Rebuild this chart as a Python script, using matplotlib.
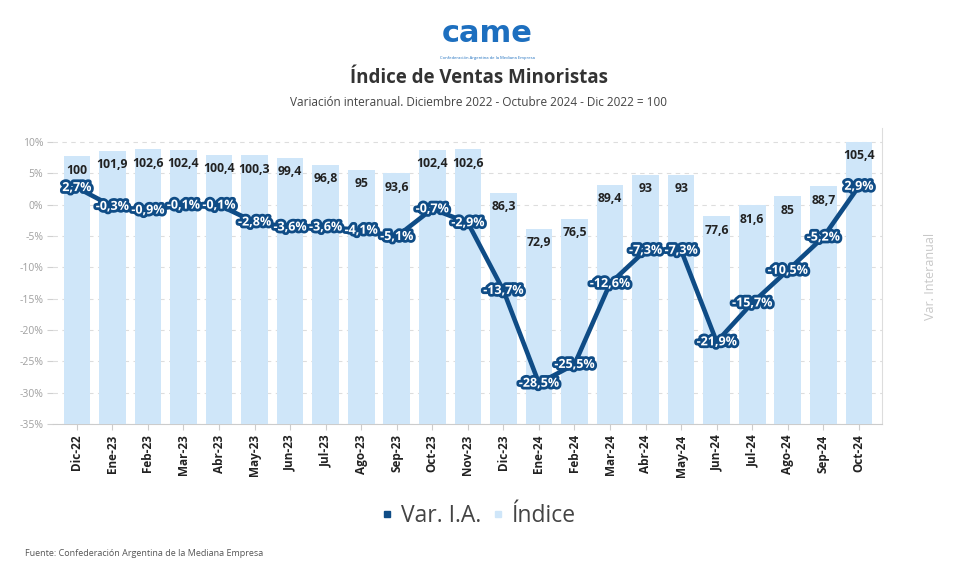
import matplotlib.pyplot as plt
import matplotlib.patheffects as pe
from matplotlib.lines import Line2D

plt.rcParams['font.family'] = ['Open Sans', 'DejaVu Sans']

meses = ['Dic-22', 'Ene-23', 'Feb-23', 'Mar-23', 'Abr-23', 'May-23', 'Jun-23', 'Jul-23',
         'Ago-23', 'Sep-23', 'Oct-23', 'Nov-23', 'Dic-23', 'Ene-24', 'Feb-24', 'Mar-24',
         'Abr-24', 'May-24', 'Jun-24', 'Jul-24', 'Ago-24', 'Sep-24', 'Oct-24']
indice = [100, 101.9, 102.6, 102.4, 100.4, 100.3, 99.4, 96.8, 95, 93.6, 102.4, 102.6,
          86.3, 72.9, 76.5, 89.4, 93, 93, 77.6, 81.6, 85, 88.7, 105.4]
var_ia = [2.7, -0.3, -0.9, -0.1, -0.1, -2.8, -3.6, -3.6, -4.1, -5.1, -0.7, -2.9,
          -13.7, -28.5, -25.5, -12.6, -7.3, -7.3, -21.9, -15.7, -10.5, -5.2, 2.9]
pct_ticks = [10, 5, 0, -5, -10, -15, -20, -25, -30, -35]

c_bar = '#cfe6f9'
c_line = '#0f4c86'

fig = plt.figure(figsize=(9.57, 5.75), dpi=100)
ax = fig.add_axes([0.0554, 0.2626, 0.8662, 0.5148])
x = list(range(len(meses)))

# base axes: percent scale, grid, right ticks
ax.set_xlim(-0.67, 22.65)
ax.set_ylim(-35, 12.2)
ax.yaxis.tick_right()
ax.yaxis.set_label_position('right')
ax.set_yticks(pct_ticks)
ax.set_yticklabels([f'{t}%' for t in pct_ticks], color='#a0a0a0', fontsize=7.5)
ax.tick_params(axis='y', length=4, color='#d0d0d0', pad=3)
ax.grid(axis='y', linestyle=(0, (4, 4)), color='#dddddd', lw=0.8)
ax.set_ylabel('Var. Interanual', color='#c8c8c8', fontsize=9, labelpad=30)
for s in ['top', 'left']:
    ax.spines[s].set_visible(False)
ax.spines['right'].set_color('#dddddd')
ax.spines['bottom'].set_color('#cccccc')
ax.set_xticks(x)
ax.set_xticklabels(meses, rotation=90, fontsize=8.5, fontweight='bold', color='#222222')
ax.tick_params(axis='x', length=4, color='#cccccc')

# bars
axb = ax.twinx()
axb.set_ylim(0, 110.5)
axb.bar(x, indice, width=0.75, color=c_bar)
for xi, v in zip(x, indice):
    axb.annotate(f'{v:g}'.replace('.', ','), (xi, v), xytext=(0, -10), textcoords='offset points',
                 ha='center', va='center', fontsize=8.8, fontweight='bold', color='#222222')
axb.set_yticks([])
for s in axb.spines.values():
    s.set_visible(False)

# line
axl = ax.twinx()
axl.set_ylim(-35, 12.2)
axl.plot(x, var_ia, color=c_line, lw=3.3, solid_joinstyle='round')
for xi, v in zip(x, var_ia):
    axl.text(xi, v, f'{v:.1f}%'.replace('.', ','), ha='center', va='center', fontsize=9,
             fontweight='bold', color='white',
             path_effects=[pe.withStroke(linewidth=4, foreground=c_line)])
axl.set_yticks([])
for s in axl.spines.values():
    s.set_visible(False)
axl.set_xlim(-0.67, 22.65)

# header
fig.text(0.509, 0.942, 'came', ha='center', va='center', fontsize=22, fontweight='bold',
         color='#1d6fbf', family='DejaVu Sans')
fig.text(0.509, 0.899, 'Confederación Argentina de la Mediana Empresa', ha='center', va='center',
         fontsize=3, color='#1d6fbf')
fig.text(0.5, 0.864, 'Índice de Ventas Minoristas', ha='center', va='center', fontsize=13.5,
         fontweight='bold', color='#333333')
fig.text(0.5, 0.822, 'Variación interanual. Diciembre 2022 - Octubre 2024 - Dic 2022 = 100',
         ha='center', va='center', fontsize=8.5, color='#444444')

# legend
handles = [Line2D([], [], marker='s', ls='none', color=c_line, markersize=5),
           Line2D([], [], marker='s', ls='none', color=c_bar, markersize=5)]
fig.legend(handles, ['Var. I.A.', 'Índice'], loc='center', bbox_to_anchor=(0.5, 0.103),
           ncol=2, frameon=False, fontsize=16.5, handlelength=0.5, handletextpad=0.35,
           columnspacing=0.5, labelcolor='#444444')

fig.text(0.026, 0.038, 'Fuente: Confederación Argentina de la Mediana Empresa', fontsize=6.5,
         color='#555555', va='center')

fig.savefig('out.png', dpi=100, facecolor='white')
